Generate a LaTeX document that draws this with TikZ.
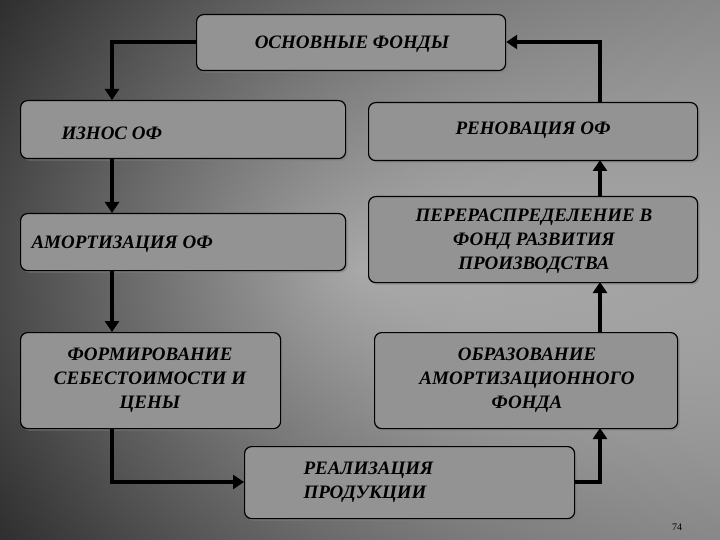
\documentclass[tikz,border=0pt]{standalone}
\usepackage{fontspec}
\setmainfont{Liberation Serif}
\usetikzlibrary{arrows.meta,shadows}
\begin{document}
\begin{tikzpicture}[x=1pt,y=-1pt,
 box/.style={draw=black,line width=1.2pt,rounded corners=7pt,fill=gray!85,drop shadow={opacity=0.6,shadow xshift=2pt,shadow yshift=-2pt}},
 lbl/.style={font=\bfseries\itshape\fontsize{19}{24}\selectfont,align=center,text=black},
 conn/.style={line width=4pt,-{Triangle[length=11pt,width=14pt]}}]
\useasboundingbox (0,0) rectangle (720,540);
\shade[inner color=gray!45,outer color=black!85] (-200,-100) rectangle (920,640);
\shade[left color=black!80,right color=black!10,opacity=0.5] (0,0) rectangle (720,540);
\node[box,minimum width=309,minimum height=56,anchor=north west] (of) at (196,14) {};
\node[box,minimum width=325,minimum height=58,anchor=north west] (izn) at (20,100) {};
\node[box,minimum width=329,minimum height=58,anchor=north west] (ren) at (368,102) {};
\node[box,minimum width=325,minimum height=57,anchor=north west] (am) at (20,213) {};
\node[box,minimum width=329,minimum height=86,anchor=north west] (per) at (368,196) {};
\node[box,minimum width=260,minimum height=96,anchor=north west] (form) at (20,332) {};
\node[box,minimum width=303,minimum height=96,anchor=north west] (obr) at (374,332) {};
\node[box,minimum width=330,minimum height=72,anchor=north west] (real) at (244,446) {};
\node[lbl] (t1) at (352,44) {ОСНОВНЫЕ ФОНДЫ};
\node[lbl,anchor=west] (t2) at (58,133) {ИЗНОС ОФ};
\node[lbl] (t3) at (533,130) {РЕНОВАЦИЯ ОФ};
\node[lbl,anchor=west] (t4) at (28,244) {АМОРТИЗАЦИЯ ОФ};
\node[lbl] (t5) at (534,241) {ПЕРЕРАСПРЕДЕЛЕНИЕ В\\ФОНД РАЗВИТИЯ\\ПРОИЗВОДСТВА};
\node[lbl] (t6) at (150,380) {ФОРМИРОВАНИЕ\\СЕБЕСТОИМОСТИ И\\ЦЕНЫ};
\node[lbl] (t7) at (527,380) {ОБРАЗОВАНИЕ\\АМОРТИЗАЦИОННОГО\\ФОНДА};
\node[lbl,anchor=west,align=left] (t8) at (300,482) {РЕАЛИЗАЦИЯ\\ПРОДУКЦИИ};
\node[font=\fontsize{10}{12}\selectfont] (pg) at (677,527) {74};
\coordinate (c1) at (112,42);
\coordinate (c2) at (600,42);
\coordinate (c3) at (112,482);
\coordinate (c4) at (600,482);
\draw[conn] (of.west |- c1) -- (c1) -- (112,100);
\draw[conn] (600,102) -- (c2) -- (of.east |- c2);
\draw[conn] (112,158) -- (112,213);
\draw[conn] (112,270) -- (112,332);
\draw[conn] (112,428) -- (c3) -- (real.west |- c3);
\draw[conn] (real.east |- c4) -- (c4) -- (600,428);
\draw[conn] (600,332) -- (600,282);
\draw[conn] (600,196) -- (600,160);
\end{tikzpicture}
\end{document}
